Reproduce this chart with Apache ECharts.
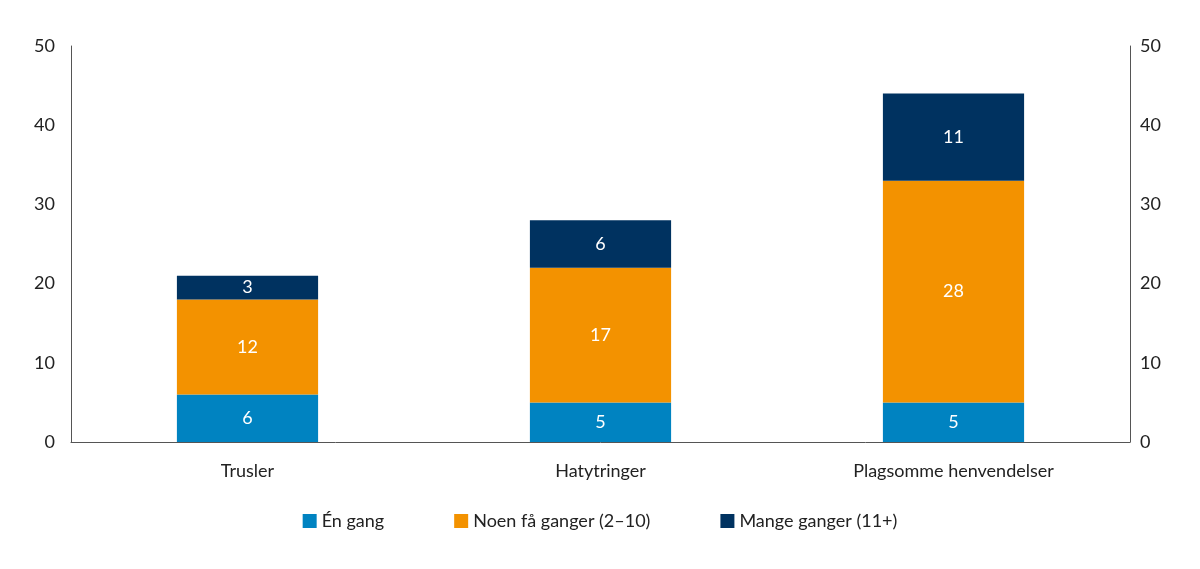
<!DOCTYPE html>
<html><head><meta charset="utf-8">
<script src="https://cdn.jsdelivr.net/npm/echarts@6/dist/echarts.min.js"></script>
<style>html,body{margin:0;background:#fff}#c{width:1200px;height:569px}</style>
</head><body><div id="c"></div>
<script>
var categories = ['Trusler', 'Hatytringer', 'Plagsomme henvendelser'];
var enGang = [6, 5, 5];
var noenFa = [12, 17, 28];
var mange = [3, 6, 11];
var names = ['Én gang', 'Noen få ganger (2–10)', 'Mange ganger (11+)'];
var colors = ['#0083c1', '#f39200', '#003260'];

var font = 'Lato';
function axis(pos) {
	return {
		type: 'value', position: pos, min: 0, max: 50, interval: 10,
		axisLine: {show: true, lineStyle: {color: '#555', width: 1}},
		axisTick: {show: false}, splitLine: {show: false},
		axisLabel: {color: '#222', fontSize: 18, fontFamily: font, margin: pos == 'left' ? 16 : 10}
	};
}
function getSeries() {
	var data = [enGang, noenFa, mange];
	var a = [];
	for (var i = 0; i < data.length; i++) {
		a.push({
			name: names[i], type: 'bar', stack: 's', data: data[i], barWidth: '40%',
			itemStyle: {color: colors[i]},
			label: {show: true, color: '#fff', fontSize: 18, fontFamily: font}
		});
	}
	return a;
}
var myChart = echarts.init(document.getElementById('c'));
myChart.setOption({
	animation: false,
	grid: {left: 71, right: 70, top: 46, bottom: 127},
	legend: {
		bottom: 34, left: 'center', itemWidth: 14, itemHeight: 14, itemGap: 70,
		icon: 'rect',
		textStyle: {fontSize: 18, fontFamily: font, color: '#222'},
		data: names
	},
	xAxis: {
		type: 'category', data: categories,
		axisLine: {lineStyle: {color: '#555'}}, axisTick: {show: false},
		axisLabel: {color: '#222', fontSize: 18, fontFamily: font, margin: 20}
	},
	yAxis: [axis('left'), axis('right')],
	series: getSeries()
});
</script></body></html>
